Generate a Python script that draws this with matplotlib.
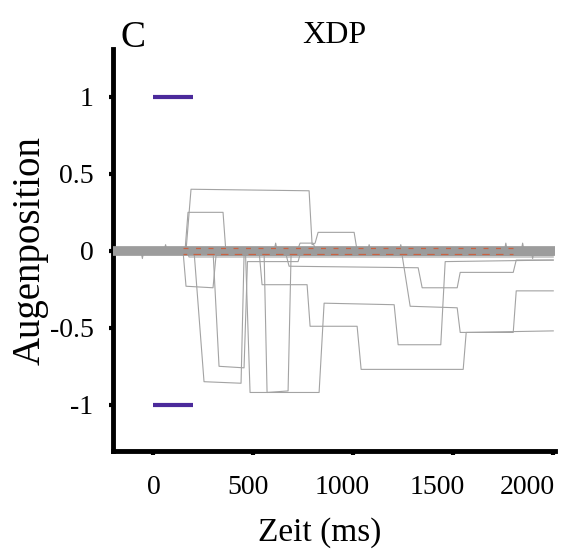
import matplotlib
matplotlib.use("Agg")
import matplotlib.pyplot as plt
import matplotlib.transforms as mtransforms

plt.rcParams['font.family'] = ['Liberation Serif', 'DejaVu Serif']

# eye traces (time in ms, position)
t1 = [-200, 165, 190, 780, 795, 810, 825, 1005, 1020, 2000]
y1 = [0, 0, 0.40, 0.39, 0.04, 0.05, 0.12, 0.12, 0.0, 0.0]
t2 = [-200, 160, 175, 350, 365, 2000]
y2 = [0, 0, 0.25, 0.25, -0.02, -0.02]
t3 = [-200, 150, 165, 300, 315, 2000]
y3 = [0, 0, -0.23, -0.24, -0.03, -0.03]
t4 = [-200, 205, 255, 440, 455, 2000]
y4 = [0, 0, -0.85, -0.86, -0.03, -0.02]
t5 = [-200, 462, 485, 830, 855, 1205, 1225, 1438, 1460, 2000]
y5 = [0, 0, -0.92, -0.92, -0.34, -0.35, -0.61, -0.61, -0.07, -0.06]
t6 = [-200, 660, 680, 1325, 1345, 1520, 1535, 1800, 1815, 2000]
y6 = [0, 0, -0.1, -0.11, -0.24, -0.24, -0.14, -0.14, -0.06, -0.06]
t7 = [-200, 1245, 1285, 1520, 1535, 1800, 1815, 2000]
y7 = [0, -0.03, -0.36, -0.37, -0.53, -0.53, -0.26, -0.26]
t8 = [-200, 530, 545, 770, 785, 1020, 1040, 1550, 1565, 2000]
y8 = [0, 0, -0.22, -0.22, -0.49, -0.49, -0.77, -0.77, -0.53, -0.52]
t9 = [-200, 300, 330, 455, 472, 725, 740, 2000]
y9 = [0, 0, -0.75, -0.76, -0.07, -0.07, 0, 0]
t10 = [-200, 555, 570, 675, 690, 2000]
y10 = [0, 0, -0.92, -0.91, -0.02, -0.02]
t11 = [-200, 720, 735, 800, 815, 2000]
y11 = [0, 0, 0.05, 0.05, 0, 0]
t12 = [-200, 170, 180, 2000]
y12 = [0, 0, -0.04, -0.04]
traces = [(t1, y1), (t2, y2), (t3, y3), (t4, y4), (t5, y5), (t6, y6),
          (t7, y7), (t8, y8), (t9, y9), (t10, y10), (t11, y11), (t12, y12)]

# baseline band with the small spikes
band_t = [-200, -60, -53, -46, 55, 63, 70, 605, 613, 620, 1073, 1080, 1087,
          1231, 1238, 1245, 1756, 1763, 1770, 1840, 1847, 1854, 1890, 1897, 1904, 2000]
band_y = [0, 0, -0.05, 0, 0, 0.04, 0, 0, 0.05, 0, 0, 0.04, 0,
          0, 0.04, 0, 0, 0.05, 0, 0, 0.05, 0, 0, -0.05, 0, 0]
red_t = [150, 1800]
red_top = [0.017, 0.017]
red_bottom = [-0.02, -0.02]

# target markers
target_t = [0, 200]
target_up = [1, 1]
target_down = [-1, -1]

xticks = [0, 500, 1000, 1500, 2000]
xtick_shift_px = [1, -5, -11, -16, -26]

fig = plt.figure(figsize=(5.62, 5.52), dpi=100)
ax = fig.add_axes([0.201, 0.183, 0.787, 0.728])

gray = '#a3a3a3'
for t, y in traces:
    ax.plot(t, y, color=gray, lw=0.8, zorder=2)
ax.plot(band_t, band_y, color=gray, lw=0.8, zorder=3)
ax.plot([-200, 2000], [0, 0], color='#9c9c9c', lw=7, zorder=3)
ax.plot(red_t, red_top, color='#dd4a1c', lw=0.9, alpha=0.7, ls=(0, (4, 6)), zorder=4)
ax.plot(red_t, red_bottom, color='#dd4a1c', lw=0.9, alpha=0.7, ls=(3, (6, 5)), zorder=4)

ax.plot(target_t, target_up, color='#4b2a9b', lw=3, solid_capstyle='butt', zorder=5)
ax.plot(target_t, target_down, color='#4b2a9b', lw=3, solid_capstyle='butt', zorder=5)

ax.set_xlim(-200, 2010)
ax.set_ylim(-1.3, 1.31)
ax.set_xticks(xticks)
ax.set_yticks([-1, -0.5, 0, 0.5, 1])
ax.set_yticklabels(['-1', '-0.5', '0', '0.5', '1'])

for s in ['top', 'right']:
    ax.spines[s].set_visible(False)
for s in ['left', 'bottom']:
    ax.spines[s].set_linewidth(3.5)
ax.tick_params(axis='both', length=3, width=3, labelsize=20)
ax.tick_params(axis='y', pad=11)
ax.tick_params(axis='x', pad=14)

for lab, dx in zip(ax.get_xticklabels(), xtick_shift_px):
    lab.set_transform(lab.get_transform() +
                      mtransforms.ScaledTranslation(dx / 100, 0, fig.dpi_scale_trans))

ax.set_xlabel('Zeit (ms)', fontsize=24)
ax.xaxis.set_label_coords(0.468, -0.165)
ax.set_ylabel('Augenposition', fontsize=28, labelpad=1)
ax.text(0.5, 1.015, 'XDP', transform=ax.transAxes, ha='center', va='baseline',
        fontsize=23)
fig.text(0.215, 0.915, 'C', fontsize=27)

fig.savefig('out.png', dpi=100)
